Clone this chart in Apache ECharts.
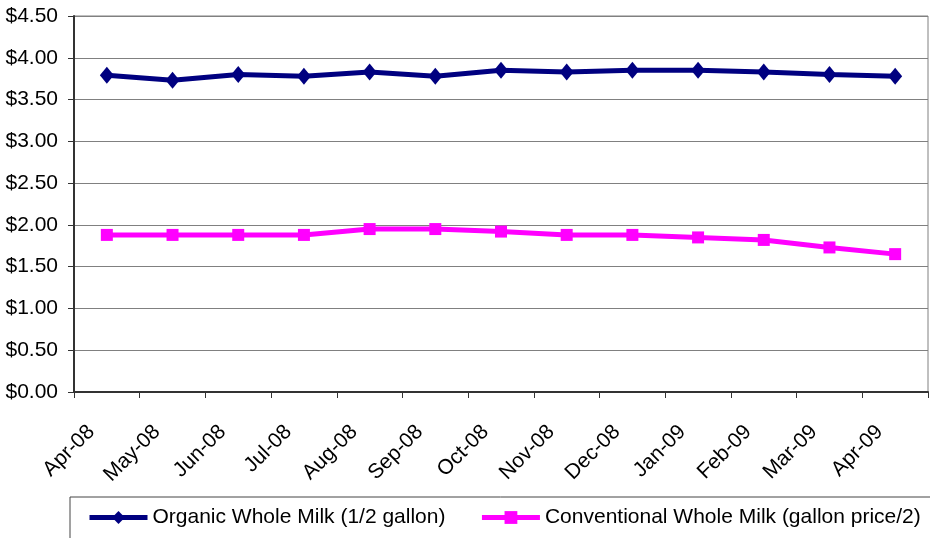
<!DOCTYPE html>
<html>
<head>
<meta charset="utf-8">
<script src="https://cdn.jsdelivr.net/npm/echarts@6/dist/echarts.min.js"></script>
<style>
  html, body { margin: 0; padding: 0; background: #fff; }
  #chart { width: 930px; height: 538px; }
</style>
</head>
<body>
<div id="chart"></div>
<script>
const months = ['Apr-08', 'May-08', 'Jun-08', 'Jul-08', 'Aug-08', 'Sep-08', 'Oct-08',
  'Nov-08', 'Dec-08', 'Jan-09', 'Feb-09', 'Mar-09', 'Apr-09'];
const organic = [3.79, 3.73, 3.80, 3.78, 3.83, 3.78, 3.85, 3.83, 3.85, 3.85, 3.83, 3.80, 3.78];
const conventional = [1.88, 1.88, 1.88, 1.88, 1.95, 1.95, 1.92, 1.88, 1.88, 1.85, 1.82, 1.73, 1.65];
const seriesNames = ['Organic Whole Milk (1/2 gallon)', 'Conventional Whole Milk (gallon price/2)'];

const font = 'Liberation Sans, Arial, sans-serif';
const chart = echarts.init(document.getElementById('chart'));

chart.setOption({
  backgroundColor: '#fff',
  animation: false,
  grid: {
    left: 74, right: 2, top: 16, bottom: 146,
    show: true, borderColor: '#808080', borderWidth: 1
  },
  legend: {
    left: 70, top: 497,
    width: 1000,
    padding: [10, 40, 30, 17],
    itemGap: 34,
    itemWidth: 58, itemHeight: 16,
    borderColor: '#444', borderWidth: 1,
    lineStyle: { width: 5 },
    textStyle: { fontFamily: font, fontSize: 21, color: '#000' },
    data: seriesNames
  },
  xAxis: {
    type: 'category',
    data: months,
    boundaryGap: true,
    axisLine: { lineStyle: { color: '#333', width: 2 } },
    axisTick: { show: true, length: 6, lineStyle: { color: '#333' } },
    axisLabel: {
      interval: 0, rotate: 45, margin: 21,
      padding: [0, 22, 0, 0],
      fontFamily: font, fontSize: 21, color: '#000'
    },
    splitLine: { show: false }
  },
  yAxis: {
    type: 'value',
    min: 0, max: 4.5, interval: 0.5,
    axisLine: { show: true, lineStyle: { color: '#333', width: 2 } },
    axisTick: { show: true, length: 6, lineStyle: { color: '#333' } },
    axisLabel: {
      margin: 16, fontFamily: font, fontSize: 21, color: '#000',
      formatter: v => '$' + v.toFixed(2)
    },
    splitLine: { show: true, lineStyle: { color: '#808080', width: 1 } }
  },
  series: [
    {
      name: seriesNames[0],
      type: 'line',
      data: organic,
      symbol: 'diamond',
      symbolSize: [14, 17],
      itemStyle: { color: '#000080' },
      lineStyle: { color: '#000080', width: 5 }
    },
    {
      name: seriesNames[1],
      type: 'line',
      data: conventional,
      symbol: 'rect',
      symbolSize: 12,
      itemStyle: { color: '#ff00ff' },
      lineStyle: { color: '#ff00ff', width: 5 }
    }
  ]
});
</script>
</body>
</html>
